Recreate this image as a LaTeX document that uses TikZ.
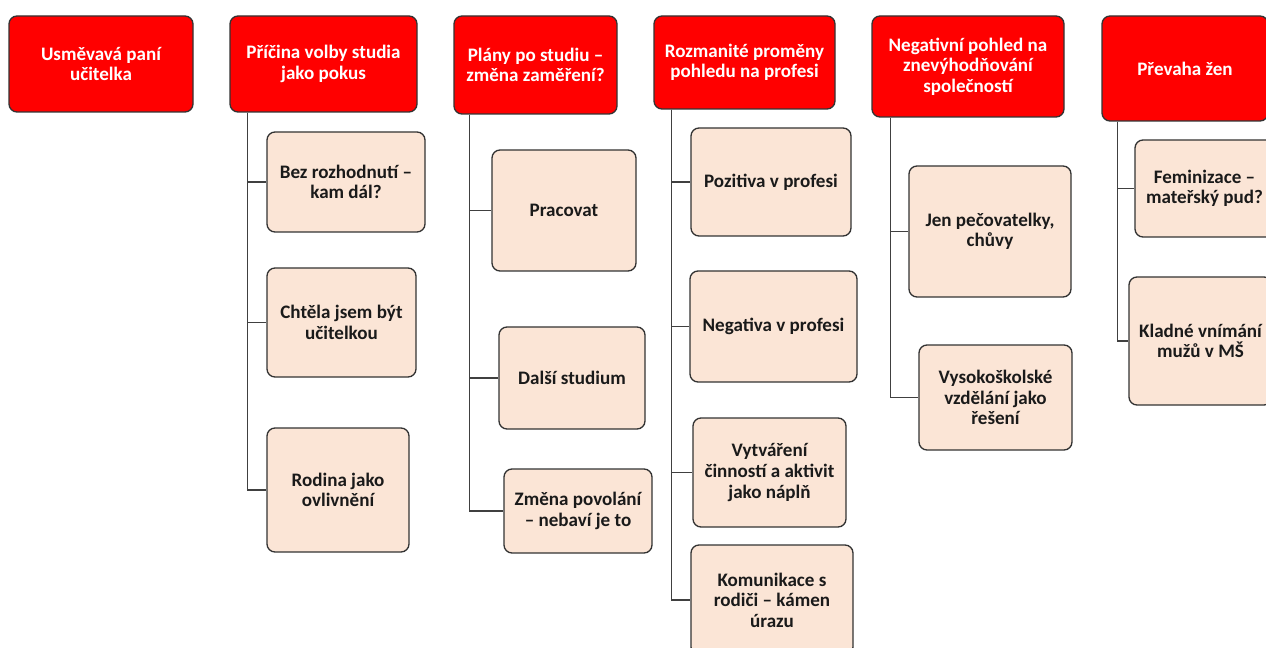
\documentclass[tikz,border=0pt]{standalone}
\usepackage{fontspec}
\setmainfont{Carlito}
\definecolor{hdrred}{HTML}{FF0000}
\definecolor{beige}{HTML}{FBE5D6}
\definecolor{edge}{HTML}{333333}
\definecolor{connc}{HTML}{404040}
\definecolor{txt}{HTML}{1A1A1A}
\tikzset{
  basebox/.style={draw=edge, line width=1pt, rounded corners=6pt, inner sep=0pt, align=center,
    font=\fontsize{14.3}{15.4}\selectfont\bfseries},
  hdr/.style={basebox, fill=hdrred, text=white},
  sub/.style={basebox, fill=beige, text=txt},
  conn/.style={draw=connc, line width=1pt}
}
\newcommand\mybox[7]{\node[#1, minimum width={(#5-#3)*0.75pt}, minimum height={(#6-#4)*0.75pt}] (#2) at ({(#3+#5)/2},{(#4+#6)/2}) {#7};}
\begin{document}
\begin{tikzpicture}[x=0.75pt,y=-0.75pt]
\useasboundingbox (0,0) rectangle (1266,648);
\clip (0,0) rectangle (1266,648);
% headers
\mybox{hdr}{h1}{9}{16}{193}{112}{Usměvavá paní\\učitelka}
\mybox{hdr}{h2}{230}{16}{417}{112}{Příčina volby studia\\jako pokus}
\mybox{hdr}{h3}{454}{16}{617}{114}{Plány po studiu –\\změna zaměření?}
\mybox{hdr}{h4}{654}{16}{835}{109}{Rozmanité proměny\\pohledu na profesi}
\mybox{hdr}{h5}{872}{16}{1064}{117}{Negativní pohled na\\znevýhodňování\\společností}
\mybox{hdr}{h6}{1102}{16}{1268}{121}{Převaha žen}
% children
\mybox{sub}{c21}{267}{132}{425}{232}{Bez rozhodnutí –\\kam dál?}
\mybox{sub}{c22}{267}{268}{416}{377}{Chtěla jsem být\\učitelkou}
\mybox{sub}{c23}{267}{428}{409}{552}{Rodina jako\\ovlivnění}
\mybox{sub}{c31}{492}{150}{636}{271}{Pracovat}
\mybox{sub}{c32}{499}{327}{645}{429}{Další studium}
\mybox{sub}{c33}{504}{469}{652}{553}{Změna povolání\\– nebaví je to}
\mybox{sub}{c41}{691}{128}{851}{236}{Pozitiva v profesi}
\mybox{sub}{c42}{690}{271}{857}{382}{Negativa v profesi}
\mybox{sub}{c43}{693}{418}{846}{527}{Vytváření\\činností a aktivit\\jako náplň}
\mybox{sub}{c44}{691}{545}{853}{655}{Komunikace s\\rodiči – kámen\\úrazu}
\mybox{sub}{c51}{909}{166}{1071}{297}{Jen pečovatelky,\\chůvy}
\mybox{sub}{c52}{919}{345}{1072}{450}{Vysokoškolské\\vzdělání jako\\řešení}
\mybox{sub}{c61}{1135}{140}{1274}{237}{Feminizace –\\mateřský pud?}
\mybox{sub}{c62}{1129}{277}{1272}{405}{Kladné vnímání\\mužů v MŠ}
% connectors
\foreach \c in {c21,c22,c23} \draw[conn] ([xshift=13.5pt]h2.south west) |- (\c.west);
\foreach \c in {c31,c32,c33} \draw[conn] ([xshift=12pt]h3.south west) |- (\c.west);
\foreach \c in {c41,c42,c43,c44} \draw[conn] ([xshift=13.5pt]h4.south west) |- (\c.west);
\foreach \c in {c51,c52} \draw[conn] ([xshift=14.25pt]h5.south west) |- (\c.west);
\foreach \c in {c61,c62} \draw[conn] ([xshift=12pt]h6.south west) |- (\c.west);
\end{tikzpicture}
\end{document}
